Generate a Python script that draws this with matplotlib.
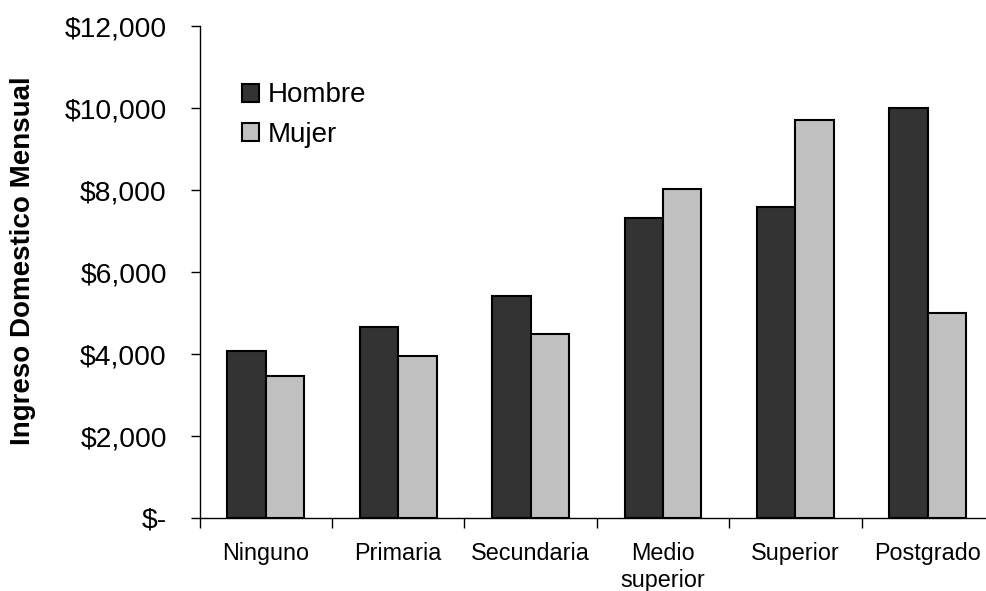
import matplotlib
matplotlib.use('Agg')

import matplotlib.pyplot as plt
from matplotlib.ticker import FuncFormatter
import numpy as np

plt.rcParams['font.family'] = ['Liberation Sans', 'DejaVu Sans']

# Datos
categorias = ["Ninguno", "Primaria", "Secundaria", "Medio\nsuperior", "Superior", "Postgrado"]
hombre = [4070, 4665, 5415, 7325, 7575, 10000]
mujer = [3455, 3960, 4490, 8025, 9705, 5005]
series = ["Hombre", "Mujer"]

fig = plt.figure(figsize=(9.86, 5.91), dpi=100)
ax = fig.add_axes([199.5 / 986, 73 / 591, 794.6 / 986, 492 / 591])

x = np.arange(len(categorias))
ancho = 0.29
ax.bar(x - ancho / 2, hombre, ancho, color="#333333", edgecolor="black", linewidth=1.5, label=series[0])
ax.bar(x + ancho / 2, mujer, ancho, color="#c0c0c0", edgecolor="black", linewidth=1.5, label=series[1])

ax.set_xlim(-0.5, len(categorias) - 0.5)
ax.set_ylim(0, 12000)
ax.set_yticks(np.arange(0, 12001, 2000))
ax.yaxis.set_major_formatter(FuncFormatter(lambda v, p: "$-" if v == 0 else f"${v:,.0f}"))
ax.tick_params(axis="y", labelsize=20.3, length=6.5, width=1, pad=17)

# ticks entre categorias, etiquetas al centro
ax.set_xticks(np.arange(-0.5, len(categorias), 1))
ax.set_xticklabels([])
ax.tick_params(axis="x", which="major", length=7, width=1)
ax.set_xticks(x, minor=True)
ax.set_xticklabels(categorias, minor=True, fontsize=16.8, linespacing=1.25)
ax.tick_params(axis="x", which="minor", length=0, pad=17)

for s in ["top", "right"]:
    ax.spines[s].set_visible(False)
for s in ["left", "bottom"]:
    ax.spines[s].set_linewidth(1)

ax.set_ylabel("Ingreso Domestico Mensual", fontsize=20, fontweight="bold")
ax.yaxis.set_label_coords(-0.206, 0.524)

ax.legend(loc="upper left", bbox_to_anchor=(0.022, 0.936), frameon=False, fontsize=20,
          handlelength=0.62, handleheight=0.62, handletextpad=0.3, labelspacing=0.48)

plt.savefig("out.png", dpi=100)
plt.close()
